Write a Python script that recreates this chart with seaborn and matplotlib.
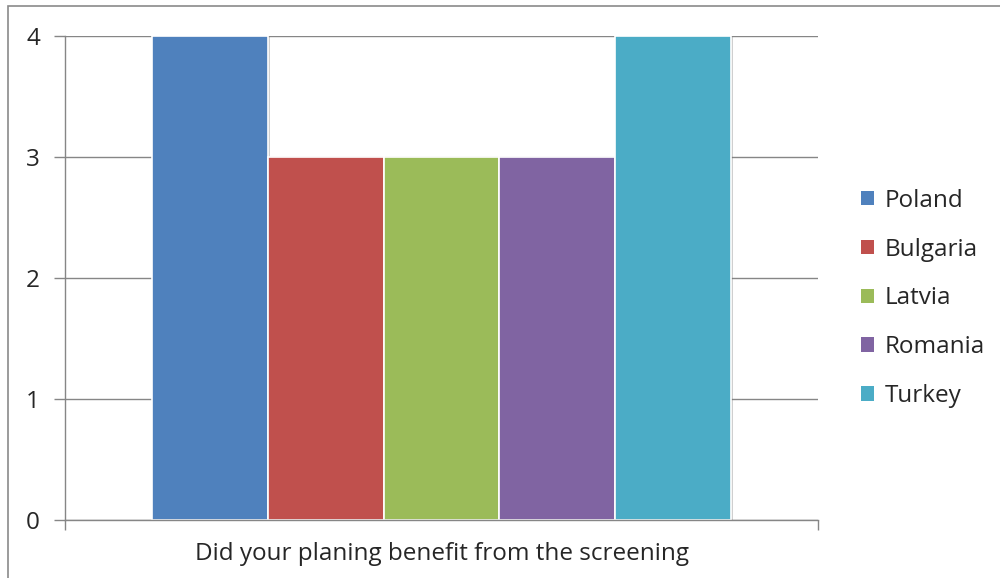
import matplotlib
matplotlib.use("Agg")
import matplotlib.pyplot as plt
import matplotlib.patheffects as pe
from matplotlib.patches import Rectangle, Patch
import pandas as pd
import seaborn as sns

# ── Data ──────────────────────────────────────────────────────────────────────
question  = ["Did your planing benefit from the screening"]
countries = ["Poland", "Bulgaria", "Latvia", "Romania", "Turkey"]
answers   = [4, 3, 3, 3, 4]
colors    = ["#4F81BD", "#C0504D", "#9BBB59", "#8064A2", "#4BACC6"]

df = pd.DataFrame({"question": question * len(countries),
                   "country": countries,
                   "value": answers})

# ── Style ─────────────────────────────────────────────────────────────────────
sns.set_style("white")
plt.rcParams["font.family"] = ["Open Sans", "DejaVu Sans"]
GRID = "#868686"
FS = 17.5

fig = plt.figure(figsize=(10, 5.78), dpi=100)
ax = fig.add_axes([0.065, 0.1003, 0.753, 0.8374])

sns.barplot(data=df, x="question", y="value", hue="country",
            hue_order=countries, palette=colors, width=0.769, gap=0,
            edgecolor="white", linewidth=1.2, saturation=1, ax=ax,
            legend=False)

# soft drop shadow like the office chart
for bar in ax.patches:
    bar.set_path_effects([pe.SimplePatchShadow(offset=(1.5, -1), shadow_rgbFace="#777777", alpha=0.35),
                          pe.Normal()])

ax.set_ylim(0, 4)
ax.set_xlim(-0.5, 0.5)
ax.set_yticks([0, 1, 2, 3, 4])
ax.set_xticks([-0.5, 0.5])
ax.set_xticklabels([])
ax.yaxis.grid(True, color=GRID, linewidth=1)
ax.set_axisbelow(True)
ax.tick_params(axis="y", direction="out", length=8, width=1, color=GRID,
               labelsize=FS, pad=10, left=True)
ax.tick_params(axis="x", direction="out", length=7, width=1, color=GRID, bottom=True)
for s in ["top", "right"]:
    ax.spines[s].set_visible(False)
for s in ["left", "bottom"]:
    ax.spines[s].set_color(GRID)
    ax.spines[s].set_linewidth(1)
ax.set_ylabel("")
ax.set_xlabel(question[0], fontsize=FS, labelpad=5)

handles = [Patch(facecolor=c, edgecolor="none") for c in colors]
fig.legend(handles, countries, loc="center left",
           bbox_to_anchor=(0.861, 0.4836), bbox_transform=fig.transFigure,
           frameon=False, fontsize=FS, handlelength=0.53, handleheight=0.53,
           handletextpad=0.45, labelspacing=1.02, borderpad=0, borderaxespad=0)

# chart area border (cut off at right and bottom like the screenshot)
fig.patches.append(Rectangle((0.008, -0.1), 1.2, 1.0896, transform=fig.transFigure,
                             fill=False, edgecolor="#8a8a8a", linewidth=1.2))

fig.savefig("out.png", dpi=100)
